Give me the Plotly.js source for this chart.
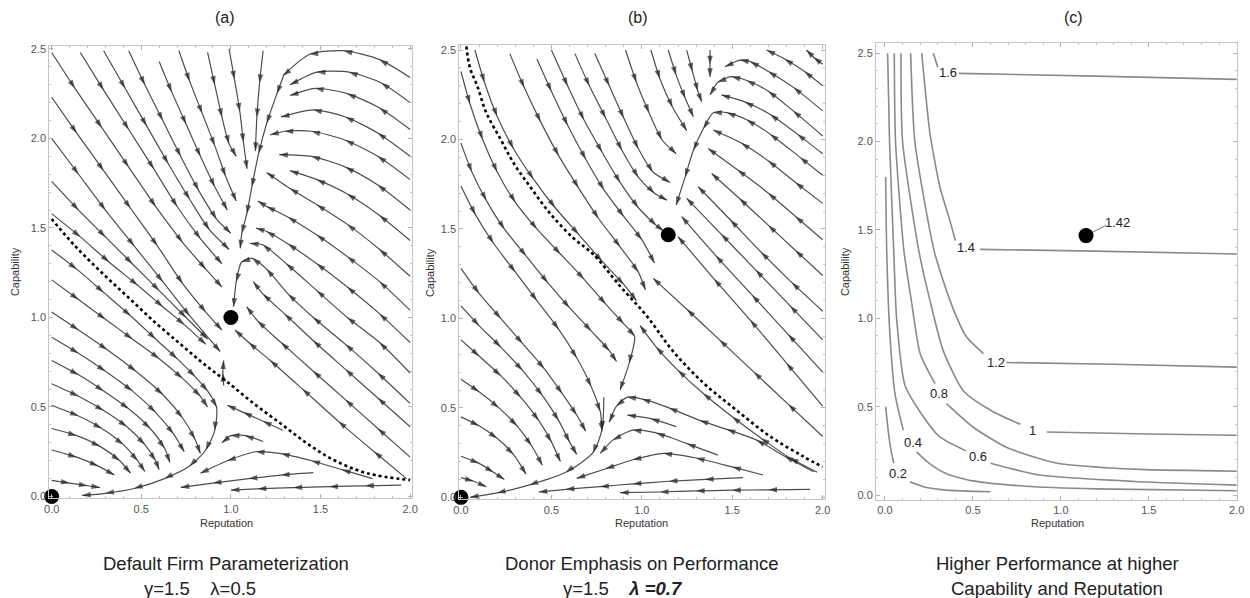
<!DOCTYPE html>
<html><head><meta charset="utf-8">
<script src="https://cdn.plot.ly/plotly-3.0.1.min.js"></script>
<style>html,body{margin:0;padding:0;background:#fff}#chart{width:1250px;height:598px}</style>
</head><body><div id="chart"></div>
<script>
// ---------- Panel (a): streamlines (flow order) ----------
const aStreams = [
  [[1.18,2.49],[1.16,2.31],[1.145,2.12],[1.137,1.93]],
  [[0.99,2.5],[1.02,2.33],[1.05,2.15],[1.07,1.98],[1.09,1.83]],
  [[0.87,2.48],[0.91,2.3],[0.95,2.12],[0.99,1.97],[1.03,1.9]],
  [[0.71,2.49],[0.77,2.32],[0.84,2.14],[0.91,1.96],[0.97,1.79],[1.03,1.65]],
  [[0.6,2.43],[0.67,2.26],[0.75,2.08],[0.83,1.9],[0.91,1.73],[0.98,1.6]],
  [[0.43,2.49],[0.52,2.3],[0.62,2.1],[0.72,1.9],[0.82,1.71],[0.92,1.55],[1.0,1.47]],
  [[0.29,2.49],[0.41,2.28],[0.53,2.07],[0.65,1.86],[0.77,1.66],[0.88,1.49],[0.99,1.38]],
  [[0.16,2.48],[0.29,2.27],[0.43,2.05],[0.57,1.83],[0.7,1.62],[0.83,1.44],[0.95,1.3]],
  [[0.0,2.48],[0.13,2.28],[0.28,2.06],[0.43,1.84],[0.58,1.62],[0.73,1.42],[0.86,1.27],[0.95,1.17]],
  [[0.0,2.23],[0.14,2.03],[0.29,1.82],[0.44,1.61],[0.59,1.4],[0.73,1.19],[0.86,1.03],[0.95,0.93]],
  [[0.0,2.0],[0.15,1.8],[0.3,1.6],[0.46,1.4],[0.62,1.2],[0.77,1.01],[0.94,0.81]],
  [[0.0,1.76],[0.15,1.6],[0.3,1.45],[0.45,1.3],[0.6,1.15],[0.75,1.0],[0.87,0.88]],
  [[0.0,1.58],[0.16,1.45],[0.32,1.31],[0.48,1.18],[0.62,1.06],[0.74,0.96],[0.86,0.85]],
  // spine and loop into the upper node
  [[1.294,2.35],[1.257,2.25],[1.2,2.085],[1.155,1.917],[1.117,1.73],[1.089,1.58],[1.061,1.47],[1.052,1.386]],
  [[2.0,0.52],[1.82,0.69],[1.64,0.85],[1.46,1.0],[1.32,1.13],[1.2,1.27],[1.12,1.33],[1.06,1.31],[1.03,1.2],[1.015,1.06]],
  // from the right edge (arching near the top, straight lower down)
  [[2.0,2.34],[1.83,2.44],[1.63,2.49],[1.44,2.47],[1.29,2.35]],
  [[2.0,2.2],[1.84,2.31],[1.66,2.37],[1.48,2.37],[1.33,2.3]],
  [[2.0,2.05],[1.83,2.17],[1.65,2.25],[1.47,2.28],[1.33,2.24]],
  [[2.0,1.9],[1.82,2.03],[1.64,2.12],[1.46,2.16],[1.28,2.12]],
  [[2.0,1.77],[1.82,1.9],[1.64,1.99],[1.45,2.04],[1.3,2.04],[1.22,2.02]],
  [[2.0,1.6],[1.82,1.74],[1.64,1.84],[1.45,1.9],[1.27,1.91]],
  [[2.0,1.43],[1.83,1.57],[1.65,1.69],[1.48,1.77],[1.33,1.82]],
  [[2.0,1.23],[1.83,1.38],[1.65,1.52],[1.48,1.63],[1.33,1.72],[1.2,1.81]],
  [[2.0,1.04],[1.83,1.2],[1.65,1.34],[1.48,1.46],[1.32,1.56],[1.2,1.62],[1.15,1.65]],
  [[2.0,0.86],[1.83,1.02],[1.65,1.17],[1.48,1.3],[1.32,1.41],[1.2,1.48],[1.14,1.5]],
  [[2.0,0.69],[1.83,0.86],[1.65,1.0],[1.48,1.15],[1.31,1.3],[1.18,1.405],[1.107,1.414]],
  [[2.0,0.39],[1.82,0.55],[1.64,0.71],[1.46,0.87],[1.3,1.02],[1.18,1.13],[1.125,1.2]],
  [[2.0,0.22],[1.82,0.38],[1.64,0.54],[1.46,0.7],[1.28,0.86],[1.15,0.98],[1.088,1.06]],
  [[1.98,0.1],[1.8,0.25],[1.6,0.42],[1.4,0.6],[1.22,0.76],[1.1,0.86],[1.023,0.93]],
  [[1.29,0.37],[1.18,0.42],[1.07,0.47],[0.98,0.51]],
  [[0.96,0.62],[0.955,0.69],[0.96,0.76]],
  // lower-left basin
  [[0.0,1.377],[0.14,1.27],[0.29,1.14],[0.44,1.01],[0.58,0.88],[0.7,0.77],[0.8,0.67],[0.87,0.59],[0.92,0.5],[0.91,0.37],[0.86,0.26],[0.77,0.17],[0.63,0.1],[0.46,0.045],[0.3,0.018],[0.17,0.006]],
  [[0.0,1.21],[0.15,1.1],[0.3,0.99],[0.45,0.88],[0.6,0.77],[0.73,0.66],[0.83,0.56],[0.87,0.5]],
  [[0.0,1.03],[0.15,0.93],[0.31,0.82],[0.47,0.7],[0.62,0.57],[0.73,0.44],[0.8,0.32],[0.83,0.24]],
  [[0.0,0.89],[0.15,0.8],[0.3,0.7],[0.45,0.59],[0.58,0.47],[0.68,0.35],[0.74,0.25]],
  [[0.0,0.76],[0.15,0.68],[0.29,0.59],[0.43,0.49],[0.55,0.38],[0.63,0.27],[0.66,0.19]],
  [[0.0,0.63],[0.15,0.56],[0.29,0.48],[0.42,0.39],[0.52,0.29],[0.58,0.2],[0.6,0.15]],
  [[0.0,0.51],[0.15,0.45],[0.28,0.38],[0.4,0.29],[0.48,0.2],[0.52,0.14]],
  [[0.0,0.38],[0.14,0.34],[0.27,0.28],[0.38,0.2],[0.44,0.13]],
  [[0.0,0.26],[0.14,0.22],[0.26,0.17],[0.35,0.12]],
  [[0.0,0.09],[0.1,0.075],[0.2,0.06],[0.27,0.05]],
  // bottom, flowing left
  [[1.95,0.064],[1.75,0.06],[1.55,0.055],[1.35,0.05],[1.15,0.043],[1.0,0.036]],
  [[1.46,0.133],[1.28,0.12],[1.1,0.1],[0.9,0.075],[0.72,0.051]],
  [[1.79,0.1],[1.62,0.15],[1.45,0.2],[1.28,0.24],[1.14,0.25],[0.98,0.2],[0.83,0.13]],
  [[1.18,0.307],[1.08,0.34],[1.0,0.34],[0.95,0.3]]
];
const aSeparatrix = [[0.0,1.55],[0.13,1.4],[0.28,1.25],[0.43,1.11],[0.58,0.97],[0.72,0.85],[0.85,0.74],[0.98,0.64],[1.127,0.52],[1.276,0.409],[1.425,0.297],[1.574,0.204],[1.76,0.13],[2.0,0.092]];
const aNodes = [[0.0,0.0],[1.0,1.0]];

// ---------- Panel (b) ----------
const bStreams = [
  // left of the dotted curve
  [[0.0,2.38],[0.05,2.2],[0.12,2.0],[0.2,1.82],[0.3,1.65],[0.42,1.5],[0.55,1.36],[0.68,1.22],[0.8,1.08],[0.9,0.97],[0.96,0.9],[0.93,0.75],[0.88,0.6]],
  [[0.0,1.98],[0.06,1.82],[0.14,1.66],[0.24,1.5],[0.36,1.35],[0.48,1.2],[0.6,1.06],[0.72,0.93],[0.82,0.82],[0.86,0.76]],
  [[0.0,1.74],[0.08,1.58],[0.18,1.42],[0.3,1.26],[0.42,1.1],[0.54,0.94],[0.64,0.78],[0.72,0.62],[0.77,0.48],[0.78,0.37]],
  [[0.0,1.28],[0.1,1.14],[0.22,1.0],[0.34,0.86],[0.46,0.72],[0.56,0.58],[0.64,0.46],[0.69,0.37]],
  [[0.0,1.07],[0.1,0.96],[0.22,0.84],[0.34,0.71],[0.45,0.57],[0.54,0.43],[0.6,0.31],[0.64,0.24]],
  [[0.0,0.88],[0.1,0.79],[0.22,0.68],[0.33,0.56],[0.43,0.43],[0.5,0.31],[0.55,0.2]],
  [[0.0,0.66],[0.1,0.59],[0.21,0.5],[0.31,0.4],[0.39,0.29],[0.45,0.18]],
  [[0.0,0.45],[0.1,0.4],[0.2,0.33],[0.29,0.24],[0.36,0.13]],
  [[0.0,0.23],[0.1,0.19],[0.18,0.14],[0.24,0.1]],
  [[0.0,0.11],[0.07,0.09],[0.14,0.06]],
  [[0.79,0.56],[0.78,0.38],[0.73,0.25],[0.58,0.14],[0.38,0.07],[0.2,0.025],[0.05,0.0]],
  // bottom, flowing left
  [[1.93,0.045],[1.7,0.042],[1.5,0.04],[1.3,0.036],[1.1,0.03],[0.88,0.026]],
  [[1.56,0.11],[1.35,0.1],[1.15,0.09],[0.95,0.075],[0.77,0.06],[0.58,0.045],[0.43,0.03]],
  [[1.67,0.125],[1.5,0.17],[1.3,0.22],[1.12,0.246],[0.95,0.21],[0.8,0.16],[0.64,0.106]],
  [[1.42,0.236],[1.25,0.3],[1.08,0.36],[0.95,0.376],[0.84,0.32],[0.77,0.246]],
  [[1.19,0.395],[1.05,0.44],[0.92,0.46]],
  [[1.95,0.143],[1.79,0.23],[1.635,0.32],[1.47,0.38],[1.32,0.43],[1.15,0.5],[1.0,0.55],[0.92,0.56],[0.86,0.51],[0.82,0.42]],
  [[1.97,0.14],[1.82,0.22],[1.66,0.33],[1.5,0.45],[1.34,0.58],[1.2,0.71],[1.08,0.84],[0.99,0.96]],
  // from the top, between the dotted curve and the spine
  [[1.377,2.5],[1.377,2.42],[1.377,2.35]],
  [[1.248,2.5],[1.28,2.38],[1.31,2.27],[1.331,2.211]],
  [[1.146,2.5],[1.19,2.36],[1.24,2.23],[1.285,2.127]],
  [[1.05,2.5],[1.1,2.34],[1.17,2.18],[1.248,2.05]],
  [[0.91,2.5],[0.97,2.32],[1.04,2.15],[1.11,2.0],[1.19,1.92]],
  [[0.74,2.48],[0.82,2.3],[0.9,2.12],[0.98,1.95],[1.06,1.82],[1.156,1.76]],
  [[0.63,2.48],[0.71,2.3],[0.8,2.12],[0.89,1.94],[0.98,1.79],[1.07,1.7],[1.14,1.66]],
  [[0.5,2.5],[0.59,2.3],[0.68,2.11],[0.78,1.93],[0.88,1.76],[0.98,1.62],[1.08,1.52],[1.12,1.49]],
  [[0.42,2.45],[0.5,2.27],[0.59,2.08],[0.69,1.89],[0.79,1.72],[0.9,1.57],[1.0,1.44],[1.07,1.31]],
  [[0.27,2.48],[0.35,2.29],[0.44,2.1],[0.54,1.91],[0.65,1.73],[0.76,1.56],[0.88,1.4],[0.98,1.26],[1.02,1.16]],
  [[0.077,2.5],[0.13,2.32],[0.2,2.13],[0.29,1.95],[0.4,1.78],[0.52,1.62],[0.65,1.47],[0.78,1.32],[0.9,1.19],[0.97,1.1]],
  // from the right edge
  [[2.0,2.42],[1.95,2.46],[1.91,2.5]],
  [[2.0,2.3],[1.9,2.38],[1.79,2.45],[1.69,2.5]],
  [[2.0,2.16],[1.84,2.29],[1.7,2.38],[1.6,2.435],[1.543,2.444],[1.46,2.407]],
  [[2.0,2.02],[1.837,2.16],[1.7,2.27],[1.58,2.33],[1.497,2.351],[1.42,2.32],[1.377,2.249]],
  [[2.0,1.92],[1.86,2.03],[1.71,2.14],[1.57,2.21],[1.44,2.249]],
  [[2.0,1.8],[1.875,1.9],[1.71,2.03],[1.58,2.11],[1.47,2.15],[1.395,2.15],[1.34,2.06],[1.285,1.94],[1.239,1.79],[1.19,1.634]],
  [[2.0,1.643],[1.85,1.76],[1.7,1.88],[1.55,1.98],[1.395,2.053]],
  [[2.0,1.44],[1.85,1.57],[1.7,1.7],[1.53,1.83],[1.367,1.95]],
  [[2.0,1.24],[1.85,1.38],[1.7,1.52],[1.54,1.67],[1.386,1.81]],
  [[2.0,1.04],[1.83,1.2],[1.66,1.37],[1.49,1.55],[1.312,1.736]],
  [[2.0,0.88],[1.82,1.07],[1.63,1.27],[1.44,1.47],[1.248,1.671]],
  [[2.0,0.7],[1.81,0.91],[1.61,1.13],[1.41,1.35],[1.22,1.569]],
  [[2.0,0.51],[1.8,0.75],[1.6,0.99],[1.4,1.22],[1.2,1.457]],
  [[2.0,0.34],[1.81,0.52],[1.62,0.7],[1.43,0.88],[1.25,1.05],[1.063,1.224]]
];
const bSeparatrix = [[0.03,2.52],[0.05,2.4],[0.09,2.3],[0.14,2.15],[0.22,2.0],[0.29,1.87],[0.38,1.74],[0.49,1.59],[0.62,1.45],[0.73,1.36],[0.88,1.18],[1.03,1.01],[1.17,0.82],[1.34,0.64],[1.52,0.49],[1.71,0.34],[1.89,0.23],[2.0,0.17]];
const bNodes = [[0.0,0.0],[1.146,1.468]];

// ---------- Panel (c): contour lines (pieces split at the labels) ----------
const cLevels = ['0.2','0.4','0.6','0.8','1','1.2','1.4','1.6'];
const cContours = [
  [[0.004,0.5],[0.02,0.35],[0.035,0.25],[0.05,0.18]],
  [[0.142,0.075],[0.218,0.047],[0.35,0.028],[0.6,0.019]],
  [[0.004,1.8],[0.01,1.38],[0.028,0.91],[0.057,0.573],[0.104,0.367]],
  [[0.18,0.244],[0.25,0.18],[0.35,0.12],[0.5,0.08],[0.8,0.05],[1.2,0.035],[2.0,0.024]],
  [[0.015,2.5],[0.026,2.0],[0.05,1.38],[0.066,1.0],[0.114,0.62],[0.2,0.47],[0.31,0.33],[0.46,0.25]],
  [[0.6,0.18],[0.88,0.113],[1.45,0.075],[2.0,0.056]],
  [[0.053,2.5],[0.06,2.0],[0.108,1.38],[0.15,1.1],[0.2,0.8],[0.285,0.63]],
  [[0.35,0.517],[0.5,0.385],[0.69,0.27],[0.98,0.18],[1.45,0.145],[2.0,0.135]],
  [[0.091,2.5],[0.1,2.0],[0.193,1.38],[0.256,1.1],[0.33,0.82],[0.445,0.59],[0.6,0.48],[0.77,0.4]],
  [[0.92,0.357],[1.5,0.345],[2.0,0.338]],
  [[0.146,2.5],[0.17,2.0],[0.28,1.38],[0.37,1.1],[0.46,0.9],[0.56,0.8]],
  [[0.69,0.75],[1.3,0.74],[2.0,0.724]],
  [[0.209,2.5],[0.256,2.045],[0.313,1.74],[0.37,1.55],[0.4,1.44]],
  [[0.54,1.39],[1.2,1.38],[2.0,1.364]],
  [[0.275,2.5],[0.3,2.42]],
  [[0.42,2.386],[1.2,2.37],[2.0,2.352]]
];
const cLabelPos = [[0.076,0.12],[0.16,0.30],[0.53,0.216],[0.31,0.573],[0.84,0.367],[0.63,0.752],[0.46,1.40],[0.36,2.39]];
const cNode = [1.143,1.468];
const cNodeLabel = '1.42';
const cNodeLabelPos = [1.32,1.543];
const cNodeLeader = [[1.143,1.468],[1.255,1.525]];

// ---------- Text ----------
const panelTags = ['(a)','(b)','(c)'];
const captions1 = ['Default Firm Parameterization','Donor Emphasis on Performance','Higher Performance at higher'];
const captions2 = ['γ=1.5&nbsp;&nbsp;&nbsp;&nbsp;λ=0.5','γ=1.5&nbsp;&nbsp;&nbsp;&nbsp;<b><i>λ =0.7</i></b>','Capability and Reputation'];
const xTitle = 'Reputation', yTitle = 'Capability';

// ---------- Build ----------
const narrow = 'Liberation Sans Narrow, Liberation Sans, Arial, sans-serif';
const sans = 'Liberation Sans, Arial, sans-serif';
const traces = [];
function addStreams(lines, xa, ya){
  lines.forEach(pts=>{
    traces.push({type:'scatter',mode:'lines+markers',xaxis:xa,yaxis:ya,
      x:pts.map(p=>p[0]),y:pts.map(p=>p[1]),
      line:{color:'#4d4d4d',width:1.2,shape:'spline',smoothing:0.7},
      marker:{symbol:'arrow',angleref:'previous',size:pts.map((p,i)=>i===0?0:9),color:'#222',line:{width:0}},
      hoverinfo:'skip'});
  });
}
function addDotted(pts,xa,ya){
  traces.push({type:'scatter',mode:'lines',xaxis:xa,yaxis:ya,x:pts.map(p=>p[0]),y:pts.map(p=>p[1]),
    line:{color:'#000',width:2.6,dash:'dot',shape:'spline'},hoverinfo:'skip'});
}
function addNodes(pts,xa,ya){
  traces.push({type:'scatter',mode:'markers',xaxis:xa,yaxis:ya,x:pts.map(p=>p[0]),y:pts.map(p=>p[1]),
    marker:{size:15,color:'#000'},hoverinfo:'skip',cliponaxis:false});
}
addStreams(aStreams,'x','y'); addDotted(aSeparatrix,'x','y'); addNodes(aNodes,'x','y');
addStreams(bStreams,'x2','y2'); addDotted(bSeparatrix,'x2','y2'); addNodes(bNodes,'x2','y2');
cContours.forEach(pts=>{
  traces.push({type:'scatter',mode:'lines',xaxis:'x3',yaxis:'y3',x:pts.map(p=>p[0]),y:pts.map(p=>p[1]),
    line:{color:'#8a8a8a',width:1.6,shape:'spline',smoothing:0.6},hoverinfo:'skip'});
});
traces.push({type:'scatter',mode:'lines',xaxis:'x3',yaxis:'y3',x:cNodeLeader.map(p=>p[0]),y:cNodeLeader.map(p=>p[1]),line:{color:'#8a8a8a',width:1.2},hoverinfo:'skip'});
addNodes([cNode],'x3','y3');

function axis(dom, rng, anchor){
  return {domain:dom, range:rng, anchor:anchor, showgrid:false, zeroline:false,
    showline:true, mirror:'ticks', linecolor:'#c4c4c4', linewidth:1,
    ticks:'inside', ticklen:4, tickcolor:'#b0b0b0', tickwidth:1,
    minor:{ticks:'inside', ticklen:2, dtick:0.1, tickcolor:'#c4c4c4'},
    dtick:0.5, tick0:0, tickformat:'.1f', tickfont:{family:sans,size:11,color:'#555'}, fixedrange:true};
}
const layout = {
  width:1250, height:598, margin:{l:0,r:0,t:0,b:0}, paper_bgcolor:'#fff', plot_bgcolor:'#fff', showlegend:false,
  xaxis: axis([0.0394,0.3296],[-0.0134,2.0106],'y'),
  yaxis: axis([0.1667,0.9236],[-0.01,2.518],'x'),
  xaxis2: axis([0.3674,0.66],[-0.0094,2.0127],'y2'),
  yaxis2: axis([0.165,0.9247],[-0.011,2.528],'x2'),
  xaxis3: axis([0.7008,0.9898],[-0.051,2.003],'y3'),
  yaxis3: axis([0.1639,0.9276],[-0.028,2.556],'x3'),
  annotations: []
};
const tagX = [0.18,0.5104,0.8584], capX = [0.181,0.5136,0.8456], capX2 = [0.16,0.498,0.8456];
const yTitleX = [0.012,0.344,0.676];
for(let i=0;i<3;i++){
  layout.annotations.push({xref:'paper',yref:'paper',x:tagX[i],y:0.97,text:panelTags[i],showarrow:false,font:{family:sans,size:16,color:'#222'},xanchor:'center',yanchor:'middle'});
  layout.annotations.push({xref:'paper',yref:'paper',x:capX[i],y:0.1254,text:xTitle,showarrow:false,font:{family:narrow,size:11,color:'#333'},xanchor:'center',yanchor:'middle'});
  layout.annotations.push({xref:'paper',yref:'paper',x:yTitleX[i],y:0.545,text:yTitle,textangle:-90,showarrow:false,font:{family:narrow,size:11,color:'#333'},xanchor:'center',yanchor:'middle'});
  layout.annotations.push({xref:'paper',yref:'paper',x:capX[i],y:0.0585,text:captions1[i],showarrow:false,font:{family:sans,size:18.5,color:'#222'},xanchor:'center',yanchor:'middle'});
  layout.annotations.push({xref:'paper',yref:'paper',x:capX2[i],y:0.016,text:captions2[i],showarrow:false,font:{family:sans,size:18.5,color:'#222'},xanchor:'center',yanchor:'middle'});
}
cLevels.forEach((lv,i)=>{
  layout.annotations.push({xref:'x3',yref:'y3',x:cLabelPos[i][0],y:cLabelPos[i][1],text:lv,showarrow:false,font:{family:sans,size:13,color:'#222'},xanchor:'center',yanchor:'middle'});
});
layout.annotations.push({xref:'x3',yref:'y3',x:cNodeLabelPos[0],y:cNodeLabelPos[1],text:cNodeLabel,showarrow:false,font:{family:sans,size:13,color:'#222'},xanchor:'center',yanchor:'middle'});

Plotly.newPlot('chart', traces, layout, {staticPlot:true, displayModeBar:false});
</script></body></html>
